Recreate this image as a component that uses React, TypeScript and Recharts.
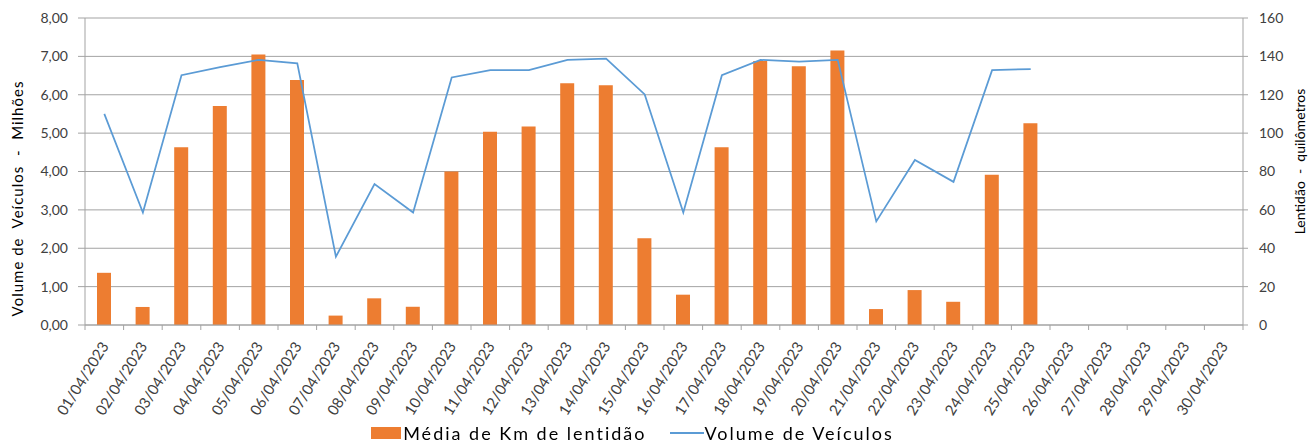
import {
  ComposedChart,
  Bar,
  Line,
  XAxis,
  YAxis,
  CartesianGrid,
  Legend,
} from "recharts";

const dates = [
  "01/04/2023", "02/04/2023", "03/04/2023", "04/04/2023", "05/04/2023",
  "06/04/2023", "07/04/2023", "08/04/2023", "09/04/2023", "10/04/2023",
  "11/04/2023", "12/04/2023", "13/04/2023", "14/04/2023", "15/04/2023",
  "16/04/2023", "17/04/2023", "18/04/2023", "19/04/2023", "20/04/2023",
  "21/04/2023", "22/04/2023", "23/04/2023", "24/04/2023", "25/04/2023",
  "26/04/2023", "27/04/2023", "28/04/2023", "29/04/2023", "30/04/2023",
];

// km de lentidão (eixo direito)
const lentidaoKm = [
  27.2, 9.4, 92.7, 114.2, 141, 127.7, 4.9, 13.9, 9.5, 80,
  100.7, 103.5, 126, 125, 45.2, 15.8, 92.7, 137.6, 134.8, 143,
  8.3, 18.2, 12.1, 78.3, 105.2, null, null, null, null, null,
];

// volume de veículos em milhões (eixo esquerdo)
const volumeMilhoes = [
  5.5, 2.93, 6.51, 6.72, 6.91, 6.82, 1.78, 3.67, 2.93, 6.45,
  6.64, 6.64, 6.91, 6.94, 6.01, 2.93, 6.51, 6.91, 6.86, 6.91,
  2.7, 4.3, 3.73, 6.64, 6.67, null, null, null, null, null,
];

const leftTicks = [0, 1, 2, 3, 4, 5, 6, 7, 8];
const rightTicks = [0, 20, 40, 60, 80, 100, 120, 140, 160];

const data = dates.map((d, i) => ({
  date: d,
  km: lentidaoKm[i],
  volume: volumeMilhoes[i],
}));

const FONT = "Lato, 'Open Sans', sans-serif";
const GRID = "#a3a3a3";
const TEXT = "#404040";
const ORANGE = "#ed7d31";
const BLUE = "#5b9bd5";

const DateTick = (props: any) => {
  const { x, y, payload, index } = props;
  const half = payload?.offset || 0;
  return (
    <g>
      <line x1={x - half} y1={y} x2={x - half} y2={y + 5} stroke={GRID} />
      {index === dates.length - 1 && (
        <line x1={x + half} y1={y} x2={x + half} y2={y + 5} stroke={GRID} />
      )}
      <text
        x={0}
        y={0}
        transform={`translate(${x + 5},${y + 21}) rotate(-58)`}
        textAnchor="end"
        fontSize={15}
        fontFamily={FONT}
        fill={TEXT}
      >
        {payload.value}
      </text>
    </g>
  );
};

const LeftTitle = (props: any) => {
  const vb = props.viewBox || { x: 0, y: 0, width: 0, height: 0 };
  const cx = vb.x + 23;
  const cy = vb.y + vb.height / 2 + 27;
  return (
    <text
      transform={`translate(${cx},${cy}) rotate(-90)`}
      textAnchor="middle"
      fontSize={15}
      letterSpacing={1}
      fontFamily={FONT}
      fill="#000"
      style={{ whiteSpace: "pre" }}
    >
      {"Volume de  Veículos  -  Milhões"}
    </text>
  );
};

const RightTitle = (props: any) => {
  const vb = props.viewBox || { x: 0, y: 0, width: 0, height: 0 };
  const cx = vb.x + vb.width - 4;
  const cy = vb.y + vb.height / 2 - 10;
  return (
    <text
      transform={`translate(${cx},${cy}) rotate(-90)`}
      textAnchor="middle"
      fontSize={14}
      fontFamily={FONT}
      fill="#000"
      style={{ whiteSpace: "pre" }}
    >
      {"Lentidão  -  quilômetros"}
    </text>
  );
};

const LegendContent = () => (
  <div
    style={{
      display: "flex",
      justifyContent: "center",
      alignItems: "center",
      fontFamily: FONT,
      fontSize: 18,
      letterSpacing: 2,
      color: "#000",
      marginLeft: -44,
    }}
  >
    <span
      style={{
        display: "inline-block",
        width: 30,
        height: 12,
        background: ORANGE,
        marginRight: 2,
      }}
    />
    <span>Média de Km de lentidão</span>
    <span
      style={{
        display: "inline-block",
        width: 34,
        height: 2,
        background: BLUE,
        marginLeft: 24,
      }}
    />
    <span>Volume de Veículos</span>
  </div>
);

export default function App() {
  return (
    <div style={{ position: "fixed", left: 0, top: 0, background: "#fff" }}>
      <ComposedChart
        width={1309}
        height={447}
        data={data}
        margin={{ top: 18, right: 0, bottom: 0, left: 0 }}
      >
        <CartesianGrid
          yAxisId="left"
          vertical={false}
          stroke={GRID}
          strokeWidth={1}
        />
        <XAxis
          dataKey="date"
          height={97}
          interval={0}
          tickSize={0}
          tickMargin={0}
          tickLine={false}
          axisLine={{ stroke: GRID }}
          tick={<DateTick />}
        />
        <YAxis
          yAxisId="left"
          orientation="left"
          width={85}
          domain={[0, 8]}
          ticks={leftTicks}
          tickFormatter={(v: number) => v.toFixed(2).replace(".", ",")}
          axisLine={{ stroke: GRID }}
          tickLine={{ stroke: GRID }}
          tickSize={7}
          tickMargin={10}
          tick={{ fill: TEXT, fontSize: 14, fontFamily: FONT }}
          label={<LeftTitle />}
        />
        <YAxis
          yAxisId="right"
          orientation="right"
          width={66}
          domain={[0, 160]}
          ticks={rightTicks}
          axisLine={{ stroke: GRID }}
          tickLine={{ stroke: GRID }}
          tickSize={5}
          tickMargin={11}
          tick={{ fill: TEXT, fontSize: 14, fontFamily: FONT }}
          label={<RightTitle />}
        />
        <Legend
          verticalAlign="bottom"
          height={25}
          content={<LegendContent />}
        />
        <Bar
          yAxisId="right"
          dataKey="km"
          name="Média de Km de lentidão"
          fill={ORANGE}
          barSize={14}
          isAnimationActive={false}
        />
        <Line
          yAxisId="left"
          dataKey="volume"
          name="Volume de Veículos"
          type="linear"
          stroke={BLUE}
          strokeWidth={1.75}
          dot={false}
          activeDot={false}
          isAnimationActive={false}
        />
      </ComposedChart>
    </div>
  );
}
